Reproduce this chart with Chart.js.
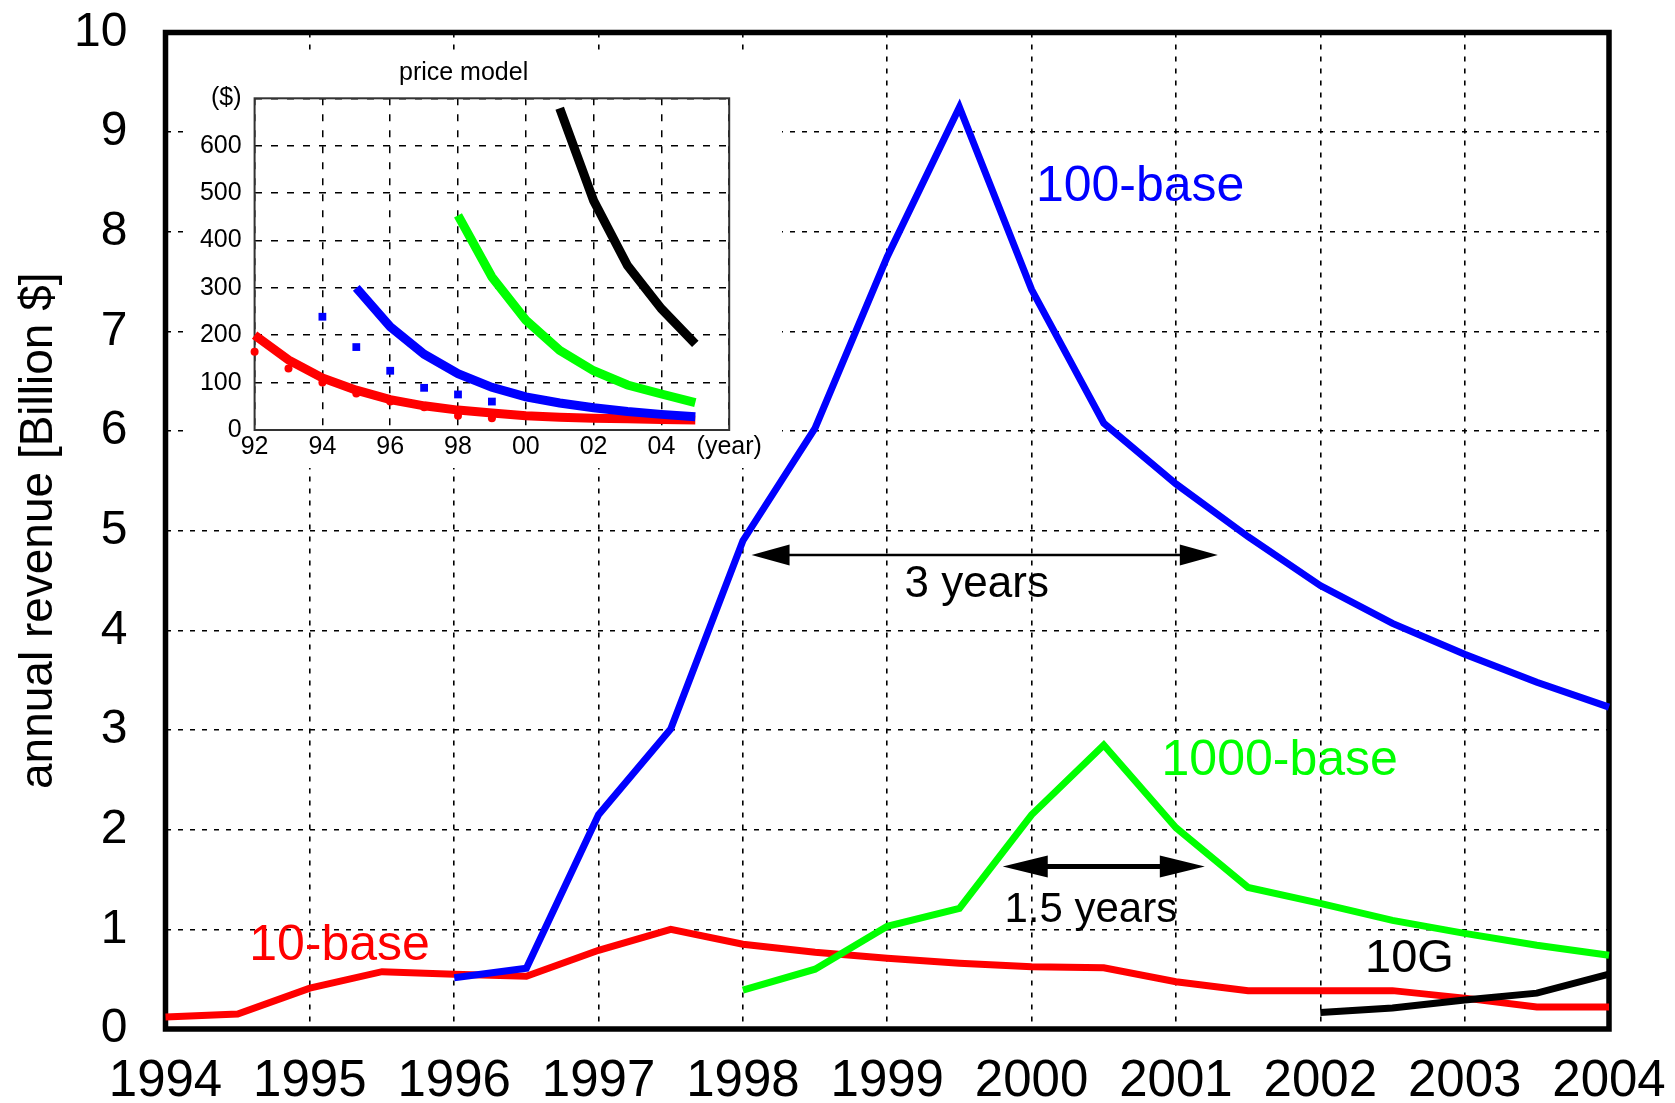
<!DOCTYPE html>
<html>
<head>
<meta charset="utf-8">
<title>Ethernet revenue and price model</title>
<script src="https://cdn.jsdelivr.net/npm/chart.js@4/dist/chart.umd.min.js"></script>
<style>
  body { margin: 0; background: #fff; }
  #wrap { position: relative; width: 1675px; height: 1103px; }
  #main { position: absolute; left: 0; top: 0; }
  #inset { position: absolute; left: 185px; top: 50px; background: #fff; }
</style>
</head>
<body>
<div id="wrap">
  <canvas id="main" width="1675" height="1103"></canvas>
  <canvas id="inset" width="597" height="418"></canvas>
</div>
<script>
const FONT = "'Liberation Sans', Arial, Helvetica, sans-serif";

// ---- main chart: annual revenue [Billion $], half-year points ----
const years10 = [1994, 1994.5, 1995, 1995.5, 1996, 1996.5, 1997, 1997.5, 1998, 1998.5, 1999,
                 1999.5, 2000, 2000.5, 2001, 2001.5, 2002, 2002.5, 2003, 2003.5, 2004];
const rev10 = [0.12, 0.15, 0.41, 0.575, 0.55, 0.53, 0.79, 1.0, 0.85, 0.77, 0.71,
               0.66, 0.625, 0.615, 0.475, 0.385, 0.385, 0.385, 0.31, 0.22, 0.22];

const years100 = [1996, 1996.5, 1997, 1997.5, 1998, 1998.5, 1999, 1999.5, 2000, 2000.5,
                  2001, 2001.5, 2002, 2002.5, 2003, 2003.5, 2004];
const rev100 = [0.515, 0.61, 2.15, 3.01, 4.9, 6.03, 7.75, 9.25, 7.42, 6.08,
                5.47, 4.94, 4.45, 4.07, 3.76, 3.48, 3.23];

const years1000 = [1998, 1998.5, 1999, 1999.5, 2000, 2000.5, 2001, 2001.5, 2002, 2002.5, 2003, 2003.5, 2004];
const rev1000 = [0.39, 0.60, 1.03, 1.21, 2.15, 2.85, 2.02, 1.42, 1.26, 1.09, 0.96, 0.84, 0.74];

const years10G = [2002, 2002.5, 2003, 2003.5, 2004];
const rev10G = [0.165, 0.21, 0.29, 0.36, 0.55];

const mainXLabels = ['1994', '1995', '1996', '1997', '1998', '1999', '2000', '2001', '2002', '2003', '2004'];
const mainYLabels = ['0', '1', '2', '3', '4', '5', '6', '7', '8', '9', '10'];

// text notes in the plot (data coordinates)
const noteText = ['100-base', '1000-base', '10-base', '10G', '3 years', '1.5 years'];
const noteX = [2000.03, 2000.90, 1994.58, 2002.31, 1999.62, 2000.41];
const noteY = [8.31, 2.55, 0.69, 0.575, 4.34, 1.077];

// double arrows (data coordinates)
const arrowFrom = [1998.06, 1999.80];
const arrowTo = [2001.29, 2001.20];
const arrowAt = [4.757, 1.63];

// ---- inset: price model ($) ----
const priceYears10 = [1992, 1993, 1994, 1995, 1996, 1997, 1998, 1999, 2000, 2001, 2002, 2003, 2004, 2005];
const price10 = [200, 148, 110, 84, 64, 51, 42, 36, 30, 27, 25, 24, 22, 21];
const dotYears10 = [1992, 1993, 1994, 1995, 1996, 1997, 1998, 1999];
const dots10 = [165, 130, 100, 77, 60, 48, 30, 25];

const priceYears100 = [1995, 1996, 1997, 1998, 1999, 2000, 2001, 2002, 2003, 2004, 2005];
const price100 = [300, 218, 160, 119, 90, 70, 57, 47, 39, 33, 28];
const dotYears100 = [1994, 1995, 1996, 1997, 1998, 1999];
const dots100 = [239, 175, 125, 89, 75, 60];

const priceYears1000 = [1998, 1999, 2000, 2001, 2002, 2003, 2004, 2005];
const price1000 = [453, 323, 232, 168, 125, 95, 76, 58];

const priceYears10G = [2001, 2002, 2003, 2004, 2005];
const price10G = [679, 484, 347, 256, 182];

const insetXLabels = ['92', '94', '96', '98', '00', '02', '04', '(year)'];
const insetYLabels = ['0', '100', '200', '300', '400', '500', '600', '($)'];

const RED = '#ff0000', BLUE = '#0000ff', GREEN = '#00ff00', BLACK = '#000000';

function pts(xs, ys) {
  return xs.map((x, i) => ({x: x, y: ys[i]}));
}

Chart.defaults.font.family = FONT;
Chart.defaults.color = '#000';

const framePlugin = {
  id: 'frame',
  beforeDatasetsDraw(chart, args, opts) {
    const {ctx, chartArea: a} = chart;
    ctx.save();
    ctx.lineWidth = opts.width;
    ctx.strokeStyle = opts.color;
    ctx.strokeRect(a.left, a.top, a.right - a.left, a.bottom - a.top);
    ctx.restore();
  }
};

const noteColor = [BLUE, GREEN, RED, BLACK, BLACK, BLACK];
const noteSize = [50, 50, 50, 47, 44, 42];
const noteAlign = ['left', 'left', 'left', 'left', 'center', 'center'];
const arrowStyle = [
  {lw: 2.5, head: 38, half: 10.5},
  {lw: 5, head: 45, half: 11}
];

const notesPlugin = {
  id: 'notes',
  afterDatasetsDraw(chart) {
    const {ctx} = chart;
    const xs = chart.scales.x, ys = chart.scales.y;
    ctx.save();
    ctx.fillStyle = BLACK;
    ctx.strokeStyle = BLACK;
    arrowFrom.forEach((from, i) => {
      const st = arrowStyle[i];
      const x1 = xs.getPixelForValue(from);
      const x2 = xs.getPixelForValue(arrowTo[i]);
      const yy = ys.getPixelForValue(arrowAt[i]);
      ctx.lineWidth = st.lw;
      ctx.beginPath();
      ctx.moveTo(x1 + st.head - 1, yy);
      ctx.lineTo(x2 - st.head + 1, yy);
      ctx.stroke();
      ctx.beginPath();
      ctx.moveTo(x1, yy);
      ctx.lineTo(x1 + st.head, yy - st.half);
      ctx.lineTo(x1 + st.head, yy + st.half);
      ctx.closePath();
      ctx.fill();
      ctx.beginPath();
      ctx.moveTo(x2, yy);
      ctx.lineTo(x2 - st.head, yy - st.half);
      ctx.lineTo(x2 - st.head, yy + st.half);
      ctx.closePath();
      ctx.fill();
    });
    ctx.textBaseline = 'alphabetic';
    noteText.forEach((t, i) => {
      ctx.font = noteSize[i] + 'px ' + FONT;
      ctx.fillStyle = noteColor[i];
      ctx.textAlign = noteAlign[i];
      ctx.fillText(t, xs.getPixelForValue(noteX[i]), ys.getPixelForValue(noteY[i]));
    });
    ctx.restore();
  }
};

function lineSet(data, color, width, order) {
  return {data: data, borderColor: color, backgroundColor: color, borderWidth: width,
          pointRadius: 0, tension: 0, fill: false, clip: false, order: order};
}

new Chart(document.getElementById('main'), {
  type: 'line',
  data: {
    datasets: [
      lineSet(pts(years10G, rev10G), BLACK, 7, 1),
      lineSet(pts(years1000, rev1000), GREEN, 7, 2),
      lineSet(pts(years100, rev100), BLUE, 7, 3),
      lineSet(pts(years10, rev10), RED, 7, 4)
    ]
  },
  options: {
    responsive: false,
    devicePixelRatio: 1,
    animation: false,
    events: [],
    layout: {padding: {left: 0, right: 66, top: 32.5, bottom: 0}},
    plugins: {
      legend: {display: false},
      tooltip: {enabled: false},
      frame: {width: 5.5, color: BLACK}
    },
    scales: {
      x: {
        type: 'linear', min: 1994, max: 2004,
        afterFit(s) { s.height = 74; s.paddingLeft = 0; s.paddingRight = 0; },
        grid: {color: BLACK, lineWidth: 1.6, drawTicks: false},
        border: {display: false, dash: [5, 7]},
        ticks: {stepSize: 1, autoSkip: false, maxRotation: 0, padding: 22,
                font: {size: 51}, color: BLACK,
                callback: (v, i) => mainXLabels[i]}
      },
      y: {
        min: 0, max: 10,
        afterFit(s) { s.width = 165.5; s.paddingTop = 0; s.paddingBottom = 0; },
        grid: {color: BLACK, lineWidth: 1.6, drawTicks: false},
        border: {display: false, dash: [5, 7]},
        ticks: {stepSize: 1, autoSkip: false, padding: 38,
                font: {size: 48}, color: BLACK,
                callback: (v, i) => mainYLabels[i]},
        title: {display: true, text: 'annual revenue [Billion $]', color: BLACK,
                font: {size: 46}, padding: {top: 12, bottom: 0}}
      }
    }
  },
  plugins: [framePlugin, notesPlugin]
});

function dotSet(data, color, style, radius, order) {
  return {data: data, showLine: false, borderColor: color, backgroundColor: color, borderWidth: 0,
          pointStyle: style, pointRadius: radius, clip: false, order: order};
}

new Chart(document.getElementById('inset'), {
  type: 'line',
  data: {
    datasets: [
      lineSet(pts(priceYears10G, price10G), BLACK, 9, 1),
      lineSet(pts(priceYears1000, price1000), GREEN, 9, 2),
      lineSet(pts(priceYears100, price100), BLUE, 9, 3),
      dotSet(pts(dotYears100, dots100), BLUE, 'rect', 5.5, 4),
      lineSet(pts(priceYears10, price10), RED, 9, 5),
      dotSet(pts(dotYears10, dots10), RED, 'circle', 4, 6)
    ]
  },
  options: {
    responsive: false,
    devicePixelRatio: 1,
    animation: false,
    events: [],
    layout: {padding: {left: 13, right: 52.8, top: 0, bottom: 0}},
    plugins: {
      legend: {display: false},
      tooltip: {enabled: false},
      title: {display: true, text: 'price model', color: BLACK,
              font: {size: 25, weight: 'normal'}, padding: {top: 8, bottom: 10.3}},
      frame: {width: 2, color: '#333'}
    },
    scales: {
      x: {
        type: 'linear', min: 1992, max: 2006,
        afterFit(s) { s.height = 38; s.paddingLeft = 0; s.paddingRight = 0; },
        grid: {color: BLACK, lineWidth: 1.5, drawTicks: false},
        border: {display: false, dash: [7, 9]},
        ticks: {stepSize: 2, autoSkip: false, maxRotation: 0, padding: 2,
                font: {size: 25}, color: BLACK,
                callback: (v, i) => insetXLabels[i]}
      },
      y: {
        min: 0, max: 700,
        afterFit(s) { s.width = 56.6; s.paddingTop = 0; s.paddingBottom = 0; },
        grid: {color: BLACK, lineWidth: 1.5, drawTicks: false},
        border: {display: false, dash: [7, 9]},
        ticks: {stepSize: 100, autoSkip: false, padding: 13,
                font: {size: 25}, color: BLACK,
                callback: (v, i) => insetYLabels[i]}
      }
    }
  },
  plugins: [framePlugin]
});
</script>
</body>
</html>
